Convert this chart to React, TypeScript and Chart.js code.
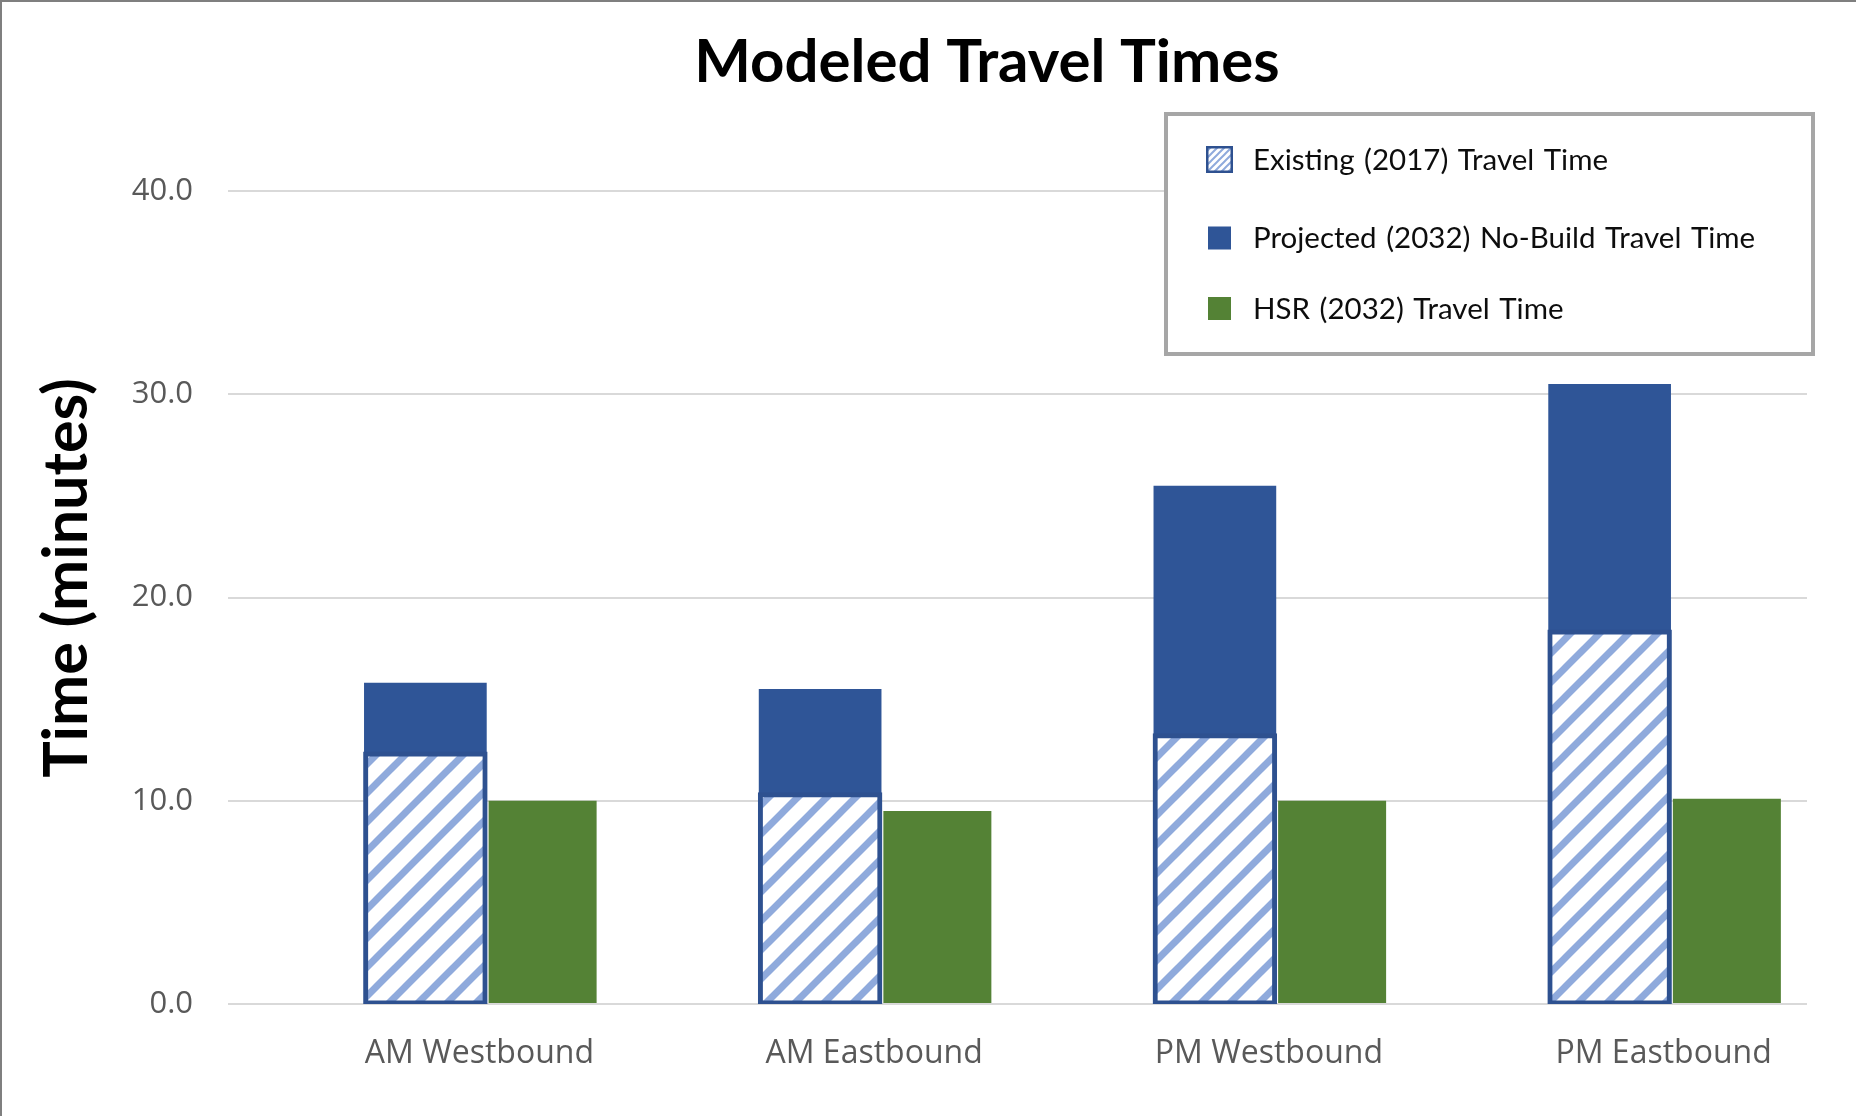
import React, { useEffect, useRef } from "react";
import { Chart, registerables } from "chart.js";

Chart.register(...registerables);

// ---- data ----
const categories = ["AM Westbound", "AM Eastbound", "PM Westbound", "PM Eastbound"];
const existing2017 = [12.3, 10.3, 13.2, 18.3];
const noBuild2032 = [15.8, 15.5, 25.5, 30.5];
const hsr2032 = [10.0, 9.5, 10.0, 10.1];
const yAxisRange = [0, 40];
const yAxisStep = 10;
const seriesNames = [
  "Existing (2017) Travel Time",
  "Projected (2032) No-Build Travel Time",
  "HSR (2032) Travel Time",
];
const chartTitle = "Modeled Travel Times";
const yAxisTitle = "Time (minutes)";

// ---- style ----
const W = 1856;
const H = 1116;
const BLUE = "#2f5597";
const BLUE_EDGE = "#2e5190";
const STRIPE = "#8faadc";
const GREEN = "#548235";
const GRID = "#d9d9d9";
const TICK = "#595959";

function makeStripes(tile: number, lineW: number): CanvasPattern {
  const c = document.createElement("canvas");
  c.width = tile;
  c.height = tile;
  const g = c.getContext("2d")!;
  g.fillStyle = "#ffffff";
  g.fillRect(0, 0, tile, tile);
  g.strokeStyle = STRIPE;
  g.lineWidth = lineW;
  g.lineCap = "square";
  for (const o of [-tile, 0, tile]) {
    g.beginPath();
    g.moveTo(o, tile);
    g.lineTo(o + tile, 0);
    g.stroke();
  }
  return g.createPattern(c, "repeat")!;
}

export default function App() {
  const canvasRef = useRef<HTMLCanvasElement | null>(null);

  useEffect(() => {
    document.body.style.margin = "0";
    const canvas = canvasRef.current;
    if (!canvas) return;

    const barHatch = makeStripes(29, 7);
    const keyHatch = makeStripes(7, 2);

    // title, rotated axis title, boxed legend and frame lines
    const decorations = {
      id: "decorations",
      afterDraw(chart: Chart) {
        const ctx = chart.ctx;
        ctx.save();

        ctx.strokeStyle = "#7f7f7f";
        ctx.lineWidth = 2;
        ctx.beginPath();
        ctx.moveTo(1, H);
        ctx.lineTo(1, 1);
        ctx.lineTo(W, 1);
        ctx.stroke();

        ctx.fillStyle = "#000000";
        ctx.textAlign = "center";
        ctx.textBaseline = "alphabetic";
        ctx.font = "bold 60px Lato";
        ctx.fillText(chartTitle, 987, 82);

        ctx.save();
        ctx.translate(87, 578);
        ctx.rotate(-Math.PI / 2);
        ctx.font = "bold 61px Lato";
        ctx.fillText(yAxisTitle, 0, 0);
        ctx.restore();

        // legend box
        ctx.fillStyle = "#ffffff";
        ctx.fillRect(1166, 114, 647, 240);
        ctx.strokeStyle = "#a6a6a6";
        ctx.lineWidth = 4;
        ctx.strokeRect(1166, 114, 647, 240);

        const rows = [
          { cy: 159.5, base: 170 },
          { cy: 238, base: 248 },
          { cy: 308.5, base: 318.5 },
        ];
        const cx = 1219.5;

        // hatched key
        ctx.fillStyle = BLUE_EDGE;
        ctx.fillRect(cx - 13.5, rows[0].cy - 13.5, 27, 27);
        ctx.fillStyle = keyHatch;
        ctx.fillRect(cx - 11, rows[0].cy - 11, 22, 22);
        // solid keys
        ctx.fillStyle = BLUE;
        ctx.fillRect(cx - 11.5, rows[1].cy - 11.5, 23, 23);
        ctx.fillStyle = GREEN;
        ctx.fillRect(cx - 11.5, rows[2].cy - 11.5, 23, 23);

        ctx.fillStyle = "#0d0d0d";
        ctx.textAlign = "left";
        ctx.font = "29.5px Lato";
        (ctx as any).wordSpacing = "2px";
        seriesNames.forEach((name, i) => {
          ctx.fillText(name, 1253, rows[i].base);
        });
        (ctx as any).wordSpacing = "0px";

        ctx.restore();
      },
    };

    const chart = new Chart(canvas, {
      type: "bar",
      data: {
        labels: categories,
        datasets: [
          {
            label: seriesNames[0],
            data: existing2017,
            backgroundColor: barHatch,
            borderColor: BLUE_EDGE,
            borderWidth: 5,
            borderSkipped: false,
            // outline straddles the bar edge
            inflateAmount: 2.5,
            xAxisID: "x",
            grouped: false,
            categoryPercentage: 1,
            barPercentage: 0.3027,
          },
          {
            label: seriesNames[1],
            data: noBuild2032,
            backgroundColor: BLUE,
            borderWidth: 0,
            xAxisID: "x",
            grouped: false,
            categoryPercentage: 1,
            barPercentage: 0.3108,
          },
          {
            label: seriesNames[2],
            data: hsr2032.map((v, i) => ({ x: i, y: v })),
            backgroundColor: GREEN,
            borderWidth: 0,
            xAxisID: "x2",
            grouped: false,
            categoryPercentage: 1,
            barPercentage: 0.2736,
            maxBarThickness: 108,
          },
        ],
      },
      options: {
        responsive: false,
        animation: false,
        devicePixelRatio: 1,
        layout: { padding: { left: 0, top: 191, right: 49, bottom: 0 } },
        plugins: {
          legend: { display: false },
          title: { display: false },
          tooltip: { enabled: false },
        },
        scales: {
          x: {
            type: "category",
            offset: true,
            grid: { display: false, drawTicks: false },
            border: { display: false },
            ticks: {
              color: TICK,
              font: { family: "'Open Sans'", size: 32 },
              padding: 31,
              labelOffset: 54,
              maxRotation: 0,
              autoSkip: false,
            },
            afterFit: (scale: any) => {
              scale.height = 112;
            },
          },
          x2: {
            type: "linear",
            axis: "x",
            display: false,
            min: -0.797,
            max: 3.203,
            offset: false,
            ticks: { stepSize: 1, includeBounds: false },
          },
          y: {
            stacked: false,
            min: yAxisRange[0],
            max: yAxisRange[1],
            grid: { color: GRID, lineWidth: 2, drawTicks: false },
            border: { display: false },
            ticks: {
              stepSize: yAxisStep,
              color: TICK,
              font: { family: "'Open Sans'", size: 31 },
              padding: 35,
              callback: (v: any) => Number(v).toFixed(1),
            },
            afterFit: (scale: any) => {
              scale.width = 228;
            },
          },
        },
      },
      plugins: [decorations],
    } as any);

    return () => chart.destroy();
  }, []);

  return (
    <div style={{ position: "absolute", left: 0, top: 0, width: W, height: H, background: "#ffffff" }}>
      <canvas ref={canvasRef} width={W} height={H} style={{ display: "block", width: W, height: H }} />
    </div>
  );
}
